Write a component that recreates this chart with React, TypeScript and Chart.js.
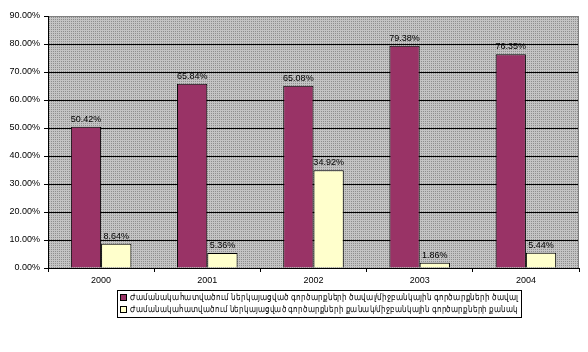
import React, { useEffect, useRef } from "react";
import { Chart, registerables } from "chart.js";

Chart.register(...registerables);

const years = ["2000", "2001", "2002", "2003", "2004"];
const volumeShare = [50.42, 65.84, 65.08, 79.38, 76.35];
const countShare = [8.64, 5.36, 34.92, 1.86, 5.44];
const volumeLabel =
  "Ժամանակահատվածում ներկայացված գործարքների ծավալ/միջբանկային գործարքների ծավալ";
const countLabel =
  "Ժամանակահատվածում ներկայացված գործարքների քանակ/միջբանկային գործարքների քանակ";
const yTicks = [0, 10, 20, 30, 40, 50, 60, 70, 80, 90];

const FONT = "'Liberation Sans', Arial, sans-serif";

export default function App() {
  const ref = useRef<HTMLCanvasElement | null>(null);

  useEffect(() => {
    document.body.style.margin = "0";
    const canvas = ref.current;
    if (!canvas) return;

    const tile = document.createElement("canvas");
    tile.width = 2;
    tile.height = 2;
    const tctx = tile.getContext("2d")!;
    tctx.fillStyle = "#c4c4c4";
    tctx.fillRect(0, 0, 2, 2);
    tctx.fillStyle = "#8e8e8e";
    tctx.fillRect(1, 1, 1, 1);

    const yMin = yTicks[0];
    const yMax = yTicks[yTicks.length - 1];

    const bgPlugin = {
      id: "plotBg",
      beforeDraw(chart: any) {
        const { ctx, chartArea: a } = chart;
        const pat = ctx.createPattern(tile, "repeat");
        ctx.save();
        ctx.fillStyle = pat;
        ctx.fillRect(a.left, a.top, a.right - a.left, a.bottom - a.top);
        ctx.restore();
      },
      afterDraw(chart: any) {
        const { ctx, chartArea: a } = chart;
        ctx.save();
        ctx.strokeStyle = "#808080";
        ctx.lineWidth = 1;
        ctx.beginPath();
        ctx.moveTo(Math.round(a.right) - 0.5, a.top);
        ctx.lineTo(Math.round(a.right) - 0.5, a.bottom);
        ctx.stroke();
        ctx.restore();

        const bx = 117, by = 290, bw = 404, bh = 27;
        ctx.save();
        ctx.fillStyle = "#ffffff";
        ctx.fillRect(bx, by, bw, bh);
        ctx.strokeStyle = "#000";
        ctx.lineWidth = 1;
        ctx.strokeRect(bx + 0.5, by + 0.5, bw, bh);
        chart.data.datasets.forEach((ds: any, i: number) => {
          const cy = by + 7.5 + i * 12;
          ctx.fillStyle = ds.backgroundColor;
          ctx.fillRect(bx + 3, cy - 3.5, 7, 7);
          ctx.strokeStyle = "#000";
          ctx.strokeRect(bx + 3.5, cy - 3, 6, 6);
          ctx.fillStyle = "#000";
          ctx.font = `9px ${FONT}`;
          ctx.textBaseline = "middle";
          ctx.textAlign = "left";
          ctx.fillText(ds.label, bx + 13, cy + 0.5, bw - 16);
        });
        ctx.restore();
      },
    };

    const labelPlugin = {
      id: "valueLabels",
      afterDatasetsDraw(chart: any) {
        const { ctx } = chart;
        ctx.save();
        ctx.fillStyle = "#000";
        ctx.font = `9px ${FONT}`;
        ctx.textAlign = "center";
        ctx.textBaseline = "bottom";
        chart.data.datasets.forEach((ds: any, di: number) => {
          const meta = chart.getDatasetMeta(di);
          meta.data.forEach((bar: any, i: number) => {
            ctx.fillText(ds.data[i].toFixed(2) + "%", bar.x, bar.y - 3);
          });
        });
        ctx.restore();
      },
    };

    const chart = new Chart(canvas, {
      type: "bar",
      data: {
        labels: years,
        datasets: [
          { label: volumeLabel, data: volumeShare, backgroundColor: "#993366", borderColor: "#000", borderWidth: 1 },
          { label: countLabel, data: countShare, backgroundColor: "#ffffcc", borderColor: "#000", borderWidth: 1 },
        ],
      },
      options: {
        animation: false,
        responsive: false,
        maintainAspectRatio: false,
        layout: { padding: { top: 16, right: 9, bottom: 64, left: 0 } },
        plugins: { legend: { display: false }, tooltip: { enabled: false } },
        datasets: { bar: { barPercentage: 1, categoryPercentage: 0.57 } },
        scales: {
          x: {
            offset: true,
            grid: { display: true, offset: true, drawOnChartArea: false, drawTicks: true, tickLength: 4, tickColor: "#000" },
            border: { display: true, color: "#000" },
            ticks: { color: "#000", font: { family: FONT, size: 9 }, padding: 3, maxRotation: 0 },
            afterFit(s: any) { s.height = 20; },
          },
          y: {
            type: "linear",
            min: yMin,
            max: yMax,
            grid: {
              color: (c: any) => (c.tick && c.tick.value === yMax ? "#808080" : "#000"),
              tickColor: "#000",
              tickLength: 4,
              lineWidth: 1,
            },
            border: { display: true, color: "#000" },
            ticks: {
              color: "#000",
              padding: 4,
              font: { family: FONT, size: 9 },
              callback: (v: any) => Number(v).toFixed(2) + "%",
            },
            afterBuildTicks(s: any) { s.ticks = yTicks.map((v) => ({ value: v })); },
            afterFit(s: any) { s.width = 48; },
          },
        },
      },
      plugins: [bgPlugin, labelPlugin],
    });

    return () => chart.destroy();
  }, []);

  return (
    <div style={{ width: 588, height: 352, background: "#fff" }}>
      <canvas ref={ref} width={588} height={352} style={{ display: "block" }} />
    </div>
  );
}
